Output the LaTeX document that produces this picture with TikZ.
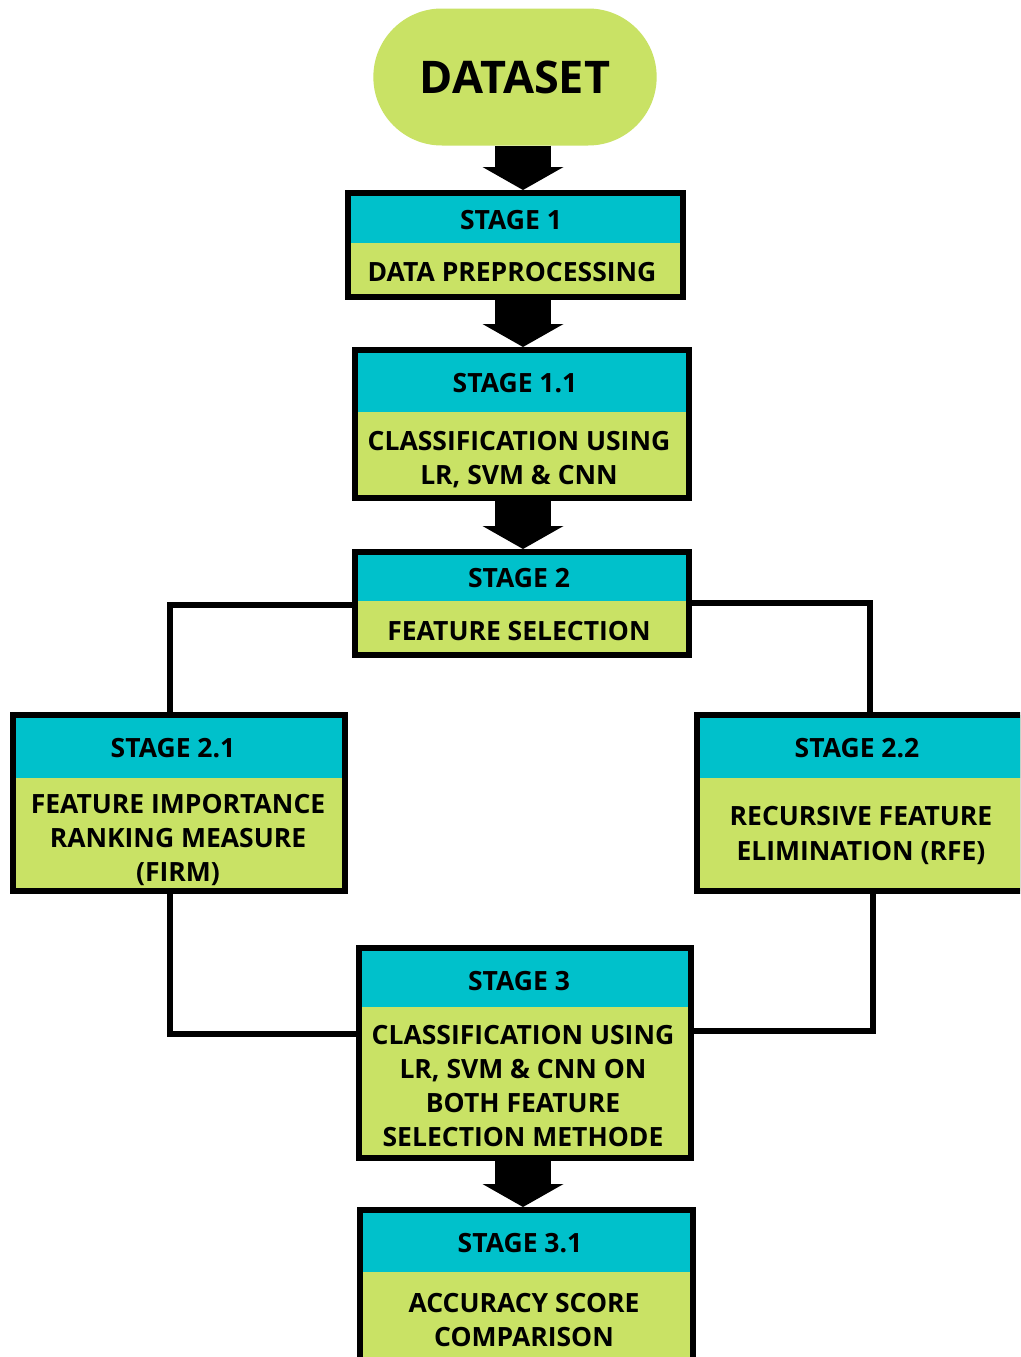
\documentclass[tikz,border=0pt]{standalone}
\usepackage{fontspec}
\setmainfont{Open Sans}
\usetikzlibrary{shapes.misc,arrows.meta,positioning}
\definecolor{StageCyan}{HTML}{00C1CB}
\definecolor{StageLime}{HTML}{C9E265}

\begin{document}
\begin{tikzpicture}[x=1pt,y=-1pt,
      stagebox/.style n args={3}{draw=black,line width=6pt,fill=StageLime,
        minimum width=#1,minimum height=#2,inner sep=0pt,
        path picture={\fill[StageCyan] (path picture bounding box.north west)
          rectangle ([yshift=-#3]path picture bounding box.north east);}},
      head/.style={font=\fontsize{26.5}{34.3}\selectfont\bfseries,inner sep=0pt},
      body/.style={font=\fontsize{26.5}{34.3}\selectfont\bfseries,align=center,inner sep=0pt},
      bigarrow/.style={line width=56pt,-{Triangle[width=81pt,length=23pt,line width=0pt]}},
      link/.style={line width=6pt}
    ]
    \useasboundingbox (0,0) rectangle (1020,1357);
    \fill[white] (0,0) rectangle (1020,1357);
    \clip (0,0) rectangle (1020,1357);
    % start
    \node[rounded rectangle,fill=StageLime,minimum width=290pt,minimum height=137pt,
      font=\fontsize{45}{52}\selectfont\bfseries] (dataset) at (515,77) {DATASET};
    % stage boxes
    \node[stagebox={335pt}{104pt}{50pt}] (s1) at (515.5,245) {};
    \node[stagebox={334pt}{148pt}{62pt}] (s11) at (522,424) {};
    \node[stagebox={334pt}{103pt}{49pt}] (s2) at (522,603.5) {};
    \node[stagebox={332pt}{176pt}{63pt}] (s21) at (179,803) {};
    \node[stagebox={326pt}{176pt}{63pt}] (s22) at (860,803) {};
    \node[stagebox={332pt}{210pt}{59pt}] (s3) at (525,1053) {};
    \node[stagebox={333pt}{158pt}{62pt}] (s31) at (526.5,1289) {};
    % texts
    \node[head] (s1t) at (511,220) {STAGE 1};
    \node[body] (s1b) at (512,272) {DATA PREPROCESSING};
    \node[head] (s11t) at (515,383) {STAGE 1.1};
    \node[body] (s11b) at (519,459.5) {CLASSIFICATION USING\\LR, SVM \& CNN};
    \node[head] (s2t) at (519,578) {STAGE 2};
    \node[body] (s2b) at (519,631) {FEATURE SELECTION};
    \node[head] (s21t) at (173,748) {STAGE 2.1};
    \node[body] (s21b) at (178,840) {FEATURE IMPORTANCE\\RANKING MEASURE\\(FIRM)};
    \node[head] (s22t) at (857,748) {STAGE 2.2};
    \node[body] (s22b) at (861,835.5) {RECURSIVE FEATURE\\ELIMINATION (RFE)};
    \node[head] (s3t) at (519,981) {STAGE 3};
    \node[body] (s3b) at (523,1086) {CLASSIFICATION USING\\LR, SVM \& CNN ON\\BOTH FEATURE\\SELECTION METHODE};
    \node[head] (s31t) at (520,1243) {STAGE 3.1};
    \node[body] (s31b) at (524,1320) {ACCURACY SCORE\\COMPARISON};
    % arrow axis and bends
    \coordinate (ax) at (523,0);
    \coordinate (lt) at (170,605);
    \coordinate (rt) at (870,603);
    \coordinate (lb) at (170,1034);
    \coordinate (rb) at (873,1031);
    % fat arrows
    \draw[bigarrow] (dataset.south -| ax) -- (s1.north -| ax);
    \draw[bigarrow] (s1.south -| ax) -- (s11.north -| ax);
    \draw[bigarrow] (s11.south -| ax) -- (s2.north -| ax);
    \draw[bigarrow] (s3.south -| ax) -- (s31.north -| ax);
    % branches
    \draw[link] (s2.west |- lt) -| (s21.north -| lt);
    \draw[link] (s2.east |- rt) -| (s22.north -| rt);
    \draw[link] (s21.south -| lb) |- (s3.west |- lb);
    \draw[link] (s22.south -| rb) |- (s3.east |- rb);
  \end{tikzpicture}
\end{document}
